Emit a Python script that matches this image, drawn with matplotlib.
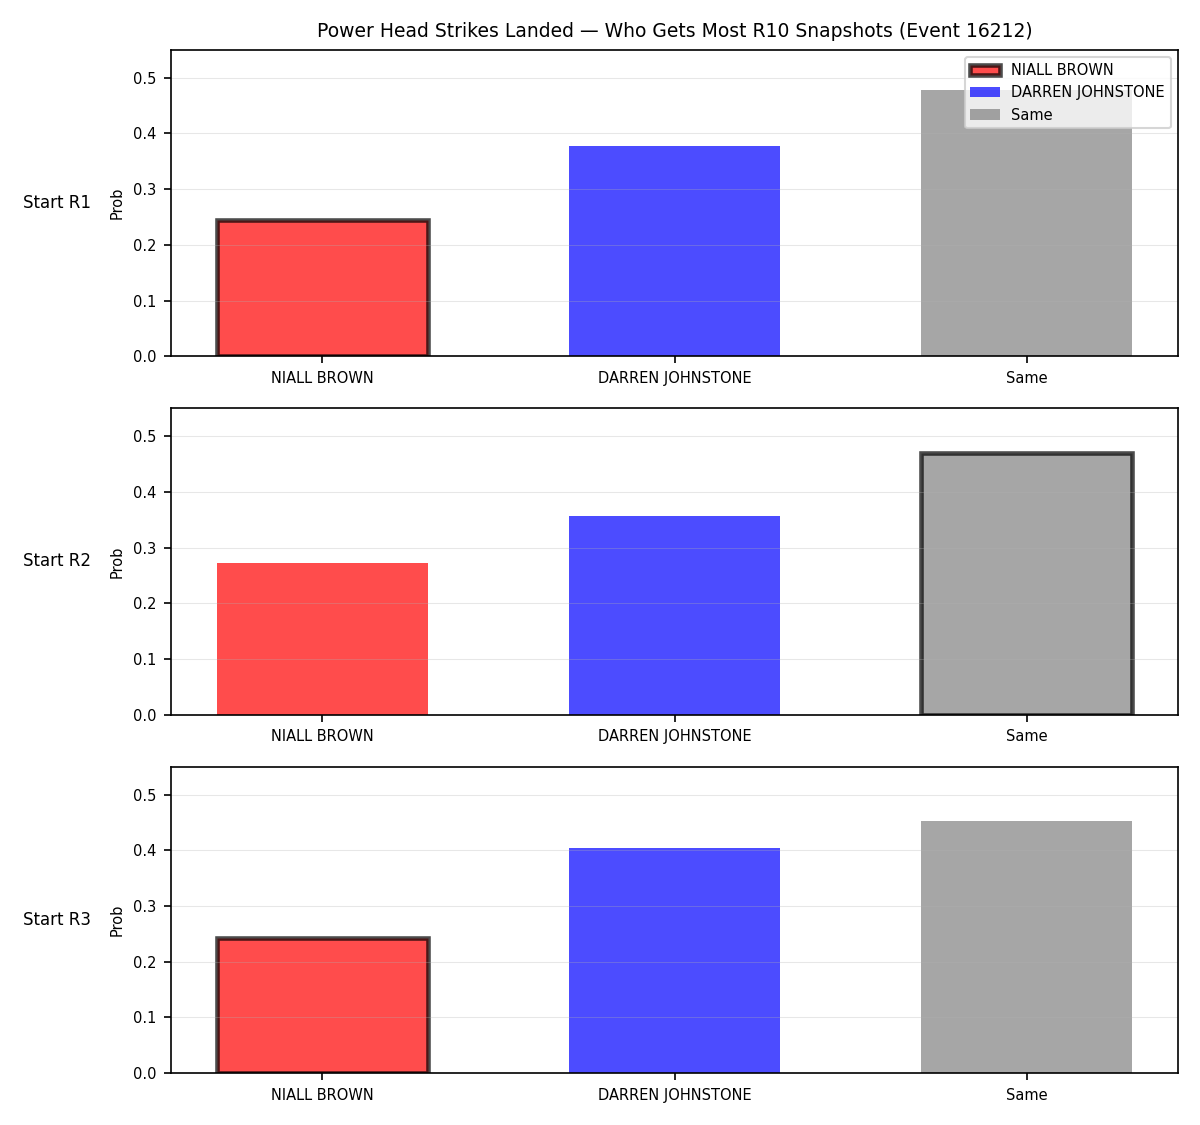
import matplotlib.pyplot as plt
import numpy as np

categories = ["NIALL BROWN", "DARREN JOHNSTONE", "Same"]
row_labels = ["Start R1", "Start R2", "Start R3"]
probs_r1 = [0.245, 0.377, 0.478]
probs_r2 = [0.272, 0.357, 0.470]
probs_r3 = [0.243, 0.404, 0.452]
highlight = [0, 2, 0]
colors = ["red", "blue", "gray"]

all_probs = [probs_r1, probs_r2, probs_r3]

fig, axes = plt.subplots(3, 1, figsize=(8, 7.5), dpi=150)
fig.subplots_adjust(left=0.1425, right=0.9817, top=0.9556, bottom=0.0462, hspace=0.17)

x = np.arange(len(categories))
for i, ax in enumerate(axes):
    bars = ax.bar(x, all_probs[i], width=0.6, color=colors, alpha=0.7, label=categories)
    hb = bars[highlight[i]]
    hb.set_edgecolor("black")
    hb.set_linewidth(2.2)
    ax.set_xticks(x)
    ax.set_xticklabels(categories, fontsize=7)
    ax.set_ylim(0, 0.55)
    ax.set_ylabel("Prob", fontsize=7)
    ax.tick_params(axis="y", labelsize=7)
    ax.grid(axis="y", alpha=0.3, linewidth=0.5)
    ax.text(-0.113, 0.5, row_labels[i], transform=ax.transAxes, ha="center", va="center", fontsize=8)
    if i == 0:
        ax.legend(loc="upper right", fontsize=7)

axes[0].set_title("Power Head Strikes Landed \u2014 Who Gets Most R10 Snapshots (Event 16212)", fontsize=9)

plt.savefig("out.png", dpi=150, facecolor="white")
